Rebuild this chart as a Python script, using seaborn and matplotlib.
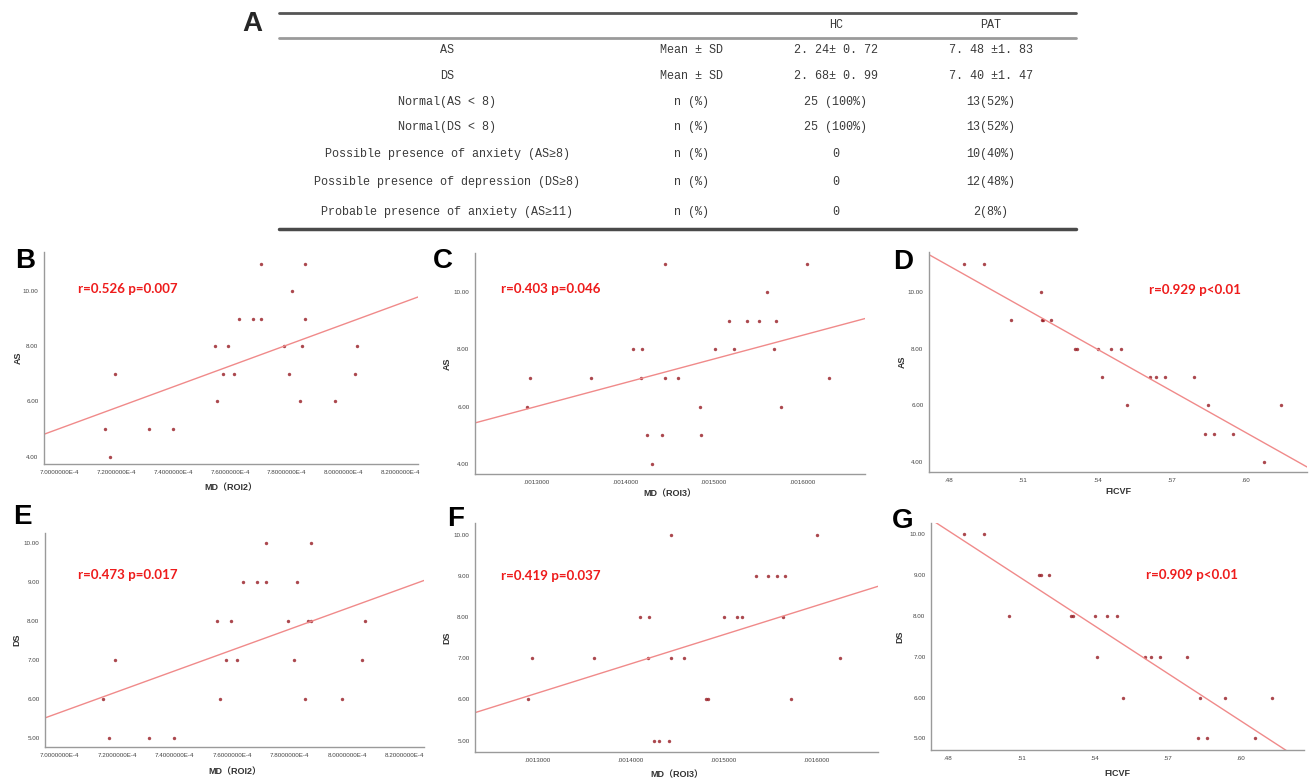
import numpy as np
import pandas as pd
import matplotlib
matplotlib.use("Agg")
import matplotlib.pyplot as plt
from matplotlib.lines import Line2D
from matplotlib.ticker import FixedLocator, FixedFormatter
import seaborn as sns

sns.set_style("white")
plt.rcParams['font.family'] = ['Liberation Sans', 'Noto Sans CJK SC', 'DejaVu Sans']

# ---------------- Table A data ----------------
table_header = ["", "", "HC", "PAT"]
row_labels = ["AS", "DS", "Normal(AS < 8)", "Normal(DS < 8)",
              "Possible presence of anxiety (AS≥8)",
              "Possible presence of depression (DS≥8)",
              "Probable presence of anxiety (AS≥11)"]
row_stats = ["Mean ± SD", "Mean ± SD", "n (%)", "n (%)", "n (%)", "n (%)", "n (%)"]
hc_values = ["2. 24± 0. 72", "2. 68± 0. 99", "25 (100%)", "25 (100%)", "0", "0", "0"]
pat_values = ["7. 48 ±1. 83", "7. 40 ±1. 47", "13(52%)", "13(52%)", "10(40%)", "12(48%)", "2(8%)"]

# ---------------- Scatter data ----------------
# B / E : MD (ROI2)
md_roi2_B = [7.158e-4, 7.178e-4, 7.196e-4, 7.313e-4, 7.400e-4, 7.546e-4, 7.555e-4, 7.575e-4,
             7.593e-4, 7.613e-4, 7.633e-4, 7.681e-4, 7.710e-4, 7.710e-4, 7.789e-4, 7.807e-4,
             7.817e-4, 7.846e-4, 7.855e-4, 7.865e-4, 7.865e-4, 7.972e-4, 8.040e-4, 8.049e-4]
as_B = [5, 4, 7, 5, 5, 8, 6, 7, 8, 7, 9, 9, 11, 9, 8, 7, 10, 6, 8, 11, 9, 6, 7, 8]

md_roi2_E = [7.152e-4, 7.171e-4, 7.191e-4, 7.311e-4, 7.399e-4, 7.548e-4, 7.558e-4, 7.578e-4,
             7.597e-4, 7.618e-4, 7.637e-4, 7.686e-4, 7.716e-4, 7.716e-4, 7.794e-4, 7.815e-4,
             7.824e-4, 7.854e-4, 7.863e-4, 7.873e-4, 7.873e-4, 7.983e-4, 8.052e-4, 8.061e-4]
ds_E = [6, 5, 7, 5, 5, 8, 6, 7, 8, 7, 9, 9, 10, 9, 8, 7, 9, 6, 8, 8, 10, 6, 7, 8]

# C / F : MD (ROI3)
md_roi3_C = [0.0012887, 0.0012925, 0.0013609, 0.0014090, 0.0014188, 0.0014180, 0.0014248,
             0.0014297, 0.0014410, 0.0014444, 0.0014444, 0.0014590, 0.0014838, 0.0014850,
             0.0015015, 0.0015165, 0.0015226, 0.0015376, 0.0015511, 0.0015602, 0.0015673,
             0.0015703, 0.0015759, 0.0016053, 0.0016297]
as_C = [6, 7, 7, 8, 8, 7, 5, 4, 5, 11, 7, 7, 6, 5, 8, 9, 8, 9, 9, 10, 8, 9, 6, 11, 7]

md_roi3_F = [0.0012903, 0.0012943, 0.0013612, 0.0014099, 0.0014185, 0.0014196, 0.0014257,
             0.0014307, 0.0014411, 0.0014432, 0.0014432, 0.0014579, 0.0014815, 0.0014837,
             0.0015005, 0.0015141, 0.0015198, 0.0015349, 0.0015481, 0.0015571, 0.0015639,
             0.0015667, 0.0015725, 0.0016011, 0.0016251]
ds_F = [6, 7, 7, 8, 7, 8, 5, 5, 5, 10, 7, 7, 6, 6, 8, 8, 8, 9, 9, 9, 8, 9, 6, 10, 7]

# D / G : FICVF
ficvf_D = [0.4860, 0.4943, 0.5050, 0.5172, 0.5175, 0.5180, 0.5213, 0.5311, 0.5319, 0.5404,
           0.5417, 0.5454, 0.5497, 0.5521, 0.5612, 0.5639, 0.5675, 0.5789, 0.5835, 0.5846,
           0.5873, 0.5948, 0.6074, 0.6143]
as_D = [11, 11, 9, 10, 9, 9, 9, 8, 8, 8, 7, 8, 8, 6, 7, 7, 7, 7, 5, 6, 5, 5, 4, 6]

ficvf_G = [0.4865, 0.4945, 0.5050, 0.5174, 0.5179, 0.5213, 0.5306, 0.5314, 0.5401, 0.5412,
           0.5450, 0.5491, 0.5517, 0.5606, 0.5632, 0.5668, 0.5780, 0.5826, 0.5835, 0.5861,
           0.5936, 0.6059, 0.6128]
ds_G = [10, 10, 8, 9, 9, 9, 8, 8, 8, 7, 8, 8, 6, 7, 7, 7, 7, 5, 6, 5, 6, 5, 6]

# tick values / labels
roi2_ticks = [7.0e-4, 7.2e-4, 7.4e-4, 7.6e-4, 7.8e-4, 8.0e-4, 8.2e-4]
roi2_ticklabels = ["7.0000000E-4", "7.2000000E-4", "7.4000000E-4", "7.6000000E-4",
                   "7.8000000E-4", "8.0000000E-4", "8.2000000E-4"]
roi3_ticks = [0.0013, 0.0014, 0.0015, 0.0016]
roi3_ticklabels = [".0013000", ".0014000", ".0015000", ".0016000"]
ficvf_ticks = [0.48, 0.51, 0.54, 0.57, 0.60]
ficvf_ticklabels = [".48", ".51", ".54", ".57", ".60"]
as_ticks = [4, 6, 8, 10]
ds_ticks = [5, 6, 7, 8, 9, 10]

stats_text = {"B": "r=0.526 p=0.007", "C": "r=0.403 p=0.046", "D": "r=0.929 p<0.01",
              "E": "r=0.473 p=0.017", "F": "r=0.419 p=0.037", "G": "r=0.909 p<0.01"}

# ---------------- Figure ----------------
W, H = 1310, 781
fig = plt.figure(figsize=(W / 100, H / 100), dpi=100)
fig.patch.set_facecolor("white")


def px_axes(left, top, right, bottom):
    return fig.add_axes([left / W, 1 - bottom / H, (right - left) / W, (bottom - top) / H])


def fx(x):
    return x / W


def fy(y):
    return 1 - y / H


# ---- Table A ----
TAB_FONT = ['Liberation Mono', 'DejaVu Sans Mono']
TAB_COLOR = "#3a3a3a"
fig.text(fx(252), fy(24), "A", fontsize=20, fontweight="bold", ha="center", va="center",
         family=['Liberation Sans'])
for y, lw, col in [(13, 2.0, "#555555"), (38, 2.0, "#9a9a9a"), (229, 2.5, "#4a4a4a")]:
    fig.add_artist(Line2D([fx(279), fx(1076)], [fy(y), fy(y)], lw=lw, color=col))

col_x = [447, 691, 836, 991]
fig.text(fx(col_x[2]), fy(25), table_header[2], fontsize=8.5, ha="center", va="center",
         family=TAB_FONT, color=TAB_COLOR)
fig.text(fx(col_x[3]), fy(25), table_header[3], fontsize=8.5, ha="center", va="center",
         family=TAB_FONT, color=TAB_COLOR)
row_y = [50, 76, 102, 127, 154, 182, 212]
for i, y in enumerate(row_y):
    for j, txt in enumerate([row_labels[i], row_stats[i], hc_values[i], pat_values[i]]):
        fig.text(fx(col_x[j]), fy(y), txt, fontsize=8.5, ha="center", va="center",
                 family=TAB_FONT, color=TAB_COLOR)

# ---- scatter panels ----
panels = [
    dict(key="B", x=md_roi2_B, y=as_B, box=(44, 252, 418, 464), xlim=(6.944e-4, 8.263e-4),
         ylim=(3.73, 11.42), xt=roi2_ticks, xtl=roi2_ticklabels, yt=as_ticks,
         xlabel="MD（ROI2）", ylabel="AS", lab=(25, 261), txt=(128, 289), xl_y=488, yl_x=18),
    dict(key="C", x=md_roi3_C, y=as_C, box=(475, 253, 865, 474), xlim=(0.0012305, 0.0016703),
         ylim=(3.636, 11.38), xt=roi3_ticks, xtl=roi3_ticklabels, yt=as_ticks,
         xlabel="MD（ROI3）", ylabel="AS", lab=(443, 261), txt=(551, 289), xl_y=494, yl_x=447),
    dict(key="D", x=ficvf_D, y=as_D, box=(929, 252, 1307, 472), xlim=(0.472, 0.6247),
         ylim=(3.647, 11.41), xt=ficvf_ticks, xtl=ficvf_ticklabels, yt=as_ticks,
         xlabel="FICVF", ylabel="AS", lab=(903, 262), txt=(1195, 290), xl_y=492, yl_x=902),
    dict(key="E", x=md_roi2_E, y=ds_E, box=(45, 533, 424, 747), xlim=(6.949e-4, 8.267e-4),
         ylim=(4.76, 10.26), xt=roi2_ticks, xtl=roi2_ticklabels, yt=ds_ticks,
         xlabel="MD（ROI2）", ylabel="DS", lab=(22, 517), txt=(128, 575), xl_y=772, yl_x=17),
    dict(key="F", x=md_roi3_F, y=ds_F, box=(475, 523, 878, 752), xlim=(0.001233, 0.0016662),
         ylim=(4.725, 10.28), xt=roi3_ticks, xtl=roi3_ticklabels, yt=ds_ticks,
         xlabel="MD（ROI3）", ylabel="DS", lab=(456, 519), txt=(551, 576), xl_y=775, yl_x=447),
    dict(key="G", x=ficvf_G, y=ds_G, box=(931, 523, 1304, 750), xlim=(0.4729, 0.6261),
         ylim=(4.716, 10.276), xt=ficvf_ticks, xtl=ficvf_ticklabels, yt=ds_ticks,
         xlabel="FICVF", ylabel="DS", lab=(903, 521), txt=(1192, 575), xl_y=773, yl_x=900),
]

for p in panels:
    ax = px_axes(*p["box"])
    ax.set_xlim(*p["xlim"])
    ax.set_ylim(*p["ylim"])
    df = pd.DataFrame({"x": p["x"], "y": p["y"]})
    sns.regplot(data=df, x="x", y="y", ax=ax, ci=None, truncate=False,
                scatter_kws=dict(s=6, color="#961a22", linewidths=0),
                line_kws=dict(color="#f08a8a", lw=1.0))
    ax.set_xlim(*p["xlim"])
    ax.set_ylim(*p["ylim"])
    ax.xaxis.set_major_locator(FixedLocator(p["xt"]))
    ax.xaxis.set_major_formatter(FixedFormatter(p["xtl"]))
    ax.yaxis.set_major_locator(FixedLocator(p["yt"]))
    ax.set_yticklabels([f"{v:.2f}" for v in p["yt"]])
    ax.tick_params(axis="both", length=0, labelsize=4.5, labelcolor="#444444", pad=4)
    for s in ["top", "right"]:
        ax.spines[s].set_visible(False)
    for s in ["left", "bottom"]:
        ax.spines[s].set_color("#9a9a9a")
        ax.spines[s].set_linewidth(1.0)
    ax.set_xlabel("")
    ax.set_ylabel("")
    fig.text(fx((p["box"][0] + p["box"][2]) / 2), fy(p["xl_y"]), p["xlabel"], fontsize=6.5,
             fontweight="bold", ha="center", va="center", color="#333333",
             family=['Liberation Sans', 'Noto Sans CJK SC'])
    fig.text(fx(p["yl_x"]), fy((p["box"][1] + p["box"][3]) / 2), p["ylabel"], fontsize=6.5,
             fontweight="bold", ha="center", va="center", rotation=90, color="#333333")
    fig.text(fx(p["lab"][0]), fy(p["lab"][1]), p["key"], fontsize=20, fontweight="bold",
             ha="center", va="center", color="black")
    fig.text(fx(p["txt"][0]), fy(p["txt"][1]), stats_text[p["key"]], fontsize=9.6,
             fontweight="bold", ha="center", va="center", color="#ee1c1c",
             family=['Lato', 'Liberation Sans'])

fig.savefig("out.png", dpi=100, facecolor="white")
